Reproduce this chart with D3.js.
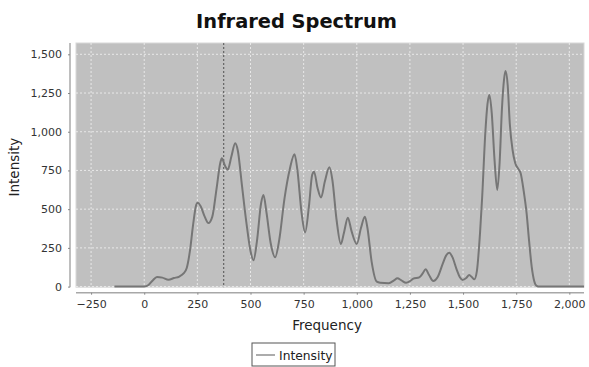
<!DOCTYPE html>
<html>
<head>
<meta charset="utf-8">
<script src="https://cdn.jsdelivr.net/npm/d3@7"></script>
<style>
  body { margin: 0; background: #fff; }
  svg { display: block; }
</style>
</head>
<body>
<svg id="chart" width="589" height="367"></svg>
<script>
// ---- data ----
const frequency = [-140, 0, 20, 40, 60, 85, 114, 140, 165, 185, 200, 215, 230, 245, 252, 265, 285, 302, 320, 340, 358, 365, 380, 393, 410, 428, 440, 460, 480, 500, 514, 530, 550, 561, 575, 595, 616, 635, 660, 685, 707, 720, 740, 757, 775, 790, 799, 815, 832, 850, 871, 885, 905, 925, 940, 958, 975, 1000, 1020, 1038, 1050, 1070, 1094, 1110, 1150, 1175, 1191, 1210, 1232, 1250, 1266, 1294, 1310, 1324, 1340, 1360, 1380, 1405, 1420, 1435, 1450, 1470, 1485, 1498, 1515, 1529, 1542, 1553, 1565, 1580, 1590, 1605, 1615, 1624, 1635, 1648, 1661, 1672, 1683, 1693, 1700, 1710, 1720, 1733, 1745, 1760, 1771, 1785, 1799, 1811, 1823, 1835, 1846, 1860, 2069];
const intensity = [0, 0, 10, 40, 62, 58, 44, 55, 65, 85, 120, 230, 400, 530, 542, 520, 450, 410, 450, 630, 800, 829, 780, 755, 840, 925, 880, 650, 420, 230, 170, 290, 540, 592, 480, 280, 190, 300, 570, 760, 854, 760, 480, 350, 520, 720, 742, 640, 575, 680, 770, 690, 430, 275, 350, 445, 360, 275, 380, 451, 380, 160, 32, 25, 22, 40, 54, 40, 25, 35, 51, 60, 85, 112, 75, 36, 60, 150, 200, 219, 190, 110, 60, 43, 55, 75, 60, 47, 100, 350, 580, 1000, 1180, 1237, 1120, 820, 624, 800, 1150, 1340, 1392, 1300, 1050, 882, 800, 760, 732, 620, 473, 290, 128, 35, 5, 0, 0];
const xTicks = [-250, 0, 250, 500, 750, 1000, 1250, 1500, 1750, 2000];
const yTicks = [0, 250, 500, 750, 1000, 1250, 1500];
const crosshairFrequency = [374];
const titleText = "Infrared Spectrum";
const xLabel = "Frequency";
const yLabel = "Intensity";
const seriesName = "Intensity";

// ---- layout ----
const plot = { left: 76, right: 584, top: 43, bottom: 287.2 };
const svg = d3.select("#chart");
const font = "'DejaVu Sans', 'Liberation Sans', sans-serif";

const x = d3.scaleLinear().domain([-321, 2069]).range([plot.left, plot.right]);
const y = d3.scaleLinear().domain([-3.9, 1573]).range([plot.bottom, plot.top]);

// plot background
svg.append("rect")
  .attr("x", plot.left).attr("y", plot.top)
  .attr("width", plot.right - plot.left).attr("height", plot.bottom - plot.top)
  .attr("fill", "#c0c0c0").attr("stroke", "#d8d8d8").attr("stroke-width", 1);

// grid
const grid = svg.append("g").attr("stroke", "#f2f2f2").attr("stroke-width", 0.8).attr("stroke-dasharray", "2,2");
grid.selectAll("line.v").data(xTicks).join("line")
  .attr("x1", d => x(d)).attr("x2", d => x(d))
  .attr("y1", plot.top).attr("y2", plot.bottom);
grid.selectAll("line.h").data(yTicks).join("line")
  .attr("y1", d => y(d)).attr("y2", d => y(d))
  .attr("x1", plot.left).attr("x2", plot.right);

// crosshair
svg.selectAll("line.cross").data(crosshairFrequency).join("line")
  .attr("x1", d => x(d)).attr("x2", d => x(d))
  .attr("y1", plot.top).attr("y2", plot.bottom)
  .attr("stroke", "#333").attr("stroke-width", 0.8).attr("stroke-dasharray", "2,2");

// series
const pts = frequency.map((f, i) => [f, intensity[i]]);
const line = d3.line().x(d => x(d[0])).y(d => y(d[1])).curve(d3.curveMonotoneX);
svg.append("path").datum(pts)
  .attr("d", line).attr("fill", "none")
  .attr("stroke", "#767676").attr("stroke-width", 2).attr("stroke-linejoin", "round");

// axes
const fmt = d3.format(",");
const xAxis = d3.axisBottom(x).tickValues(xTicks).tickFormat(fmt).tickSize(2).tickSizeOuter(0).tickPadding(6);
const gx = svg.append("g").attr("transform", `translate(0,292.7)`).call(xAxis);
const yAxis = d3.axisLeft(y).tickValues(yTicks).tickFormat(fmt).tickSize(2).tickSizeOuter(0).tickPadding(6);
const gy = svg.append("g").attr("transform", `translate(70,0)`).call(yAxis);
[gx, gy].forEach(g => {
  g.select(".domain").attr("stroke", "#a8a8a8").attr("stroke-width", 1.5);
  g.selectAll(".tick line").attr("stroke", "#888");
  g.selectAll(".tick text").attr("fill", "#333").style("font-family", font).style("font-size", "11px");
});
gx.select(".domain").attr("d", `M${plot.left},0H${plot.right}`);
gy.select(".domain").attr("d", `M0,${plot.top}V${plot.bottom}`);

// title and labels
svg.append("text").text(titleText)
  .attr("x", 296.5).attr("y", 27.5).attr("text-anchor", "middle")
  .style("font-family", font).style("font-weight", "bold").style("font-size", "19.4px").attr("fill", "#111");
svg.append("text").text(xLabel)
  .attr("x", (plot.left + plot.right) / 2 - 3).attr("y", 330).attr("text-anchor", "middle")
  .style("font-family", font).style("font-size", "13.5px").attr("fill", "#222");
svg.append("text").text(yLabel)
  .attr("transform", `translate(19,${(plot.top + plot.bottom) / 2 + 2}) rotate(-90)`).attr("text-anchor", "middle")
  .style("font-family", font).style("font-size", "13.5px").attr("fill", "#222");

// legend
const lg = svg.append("g");
lg.append("rect").attr("x", 252).attr("y", 343).attr("width", 83).attr("height", 23)
  .attr("fill", "#fff").attr("stroke", "#555").attr("stroke-width", 1);
lg.append("line").attr("x1", 256).attr("x2", 275).attr("y1", 355).attr("y2", 355)
  .attr("stroke", "#767676").attr("stroke-width", 1.2);
lg.append("text").text(seriesName).attr("x", 279).attr("y", 359.5)
  .style("font-family", font).style("font-size", "12.3px").attr("fill", "#222");
</script>
</body>
</html>
